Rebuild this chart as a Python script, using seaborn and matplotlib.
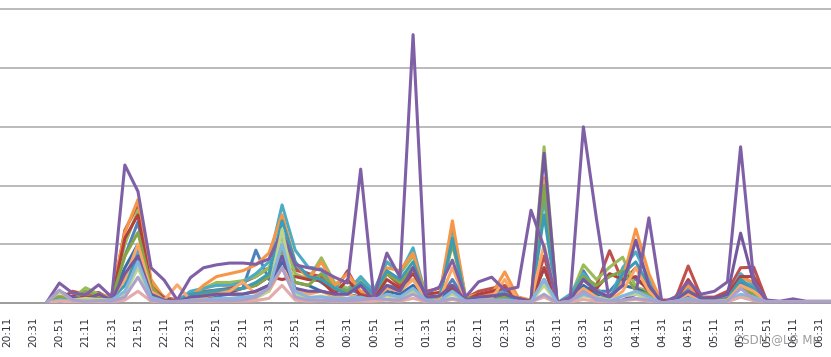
import numpy as np
import matplotlib
matplotlib.use("Agg")
import matplotlib.pyplot as plt
import seaborn as sns

n = np.nan

# category axis: 10-minute samples from 20:11 to 06:41
times = ["20:11", "20:21", "20:31", "20:41", "20:51", "21:01", "21:11", "21:21", "21:31", "21:41",
         "21:51", "22:01", "22:11", "22:21", "22:31", "22:41", "22:51", "23:01", "23:11", "23:21",
         "23:31", "23:41", "23:51", "00:01", "00:11", "00:21", "00:31", "00:41", "00:51", "01:01",
         "01:11", "01:21", "01:31", "01:41", "01:51", "02:01", "02:11", "02:21", "02:31", "02:41",
         "02:51", "03:01", "03:11", "03:21", "03:31", "03:41", "03:51", "04:01", "04:11", "04:21",
         "04:31", "04:41", "04:51", "05:01", "05:11", "05:21", "05:31", "05:41", "05:51", "06:01",
         "06:11", "06:21", "06:31", "06:41"]

blue1 = [n, n, n, 0, 5, 3, 3, 3, 15, 80,
         138, 25, 5, 3, 10, 15, 20, 22, 25, 90,
         40, 100, 60, 50, 35, 20, 25, 15, 10, 30,
         25, 40, 10, 8, 40, 5, 10, 10, 15, 5,
         3, 60, 0, 10, 55, 20, 20, 45, 40, 25,
         3, 5, 15, 5, 5, 5, 35, 20, 2, 2,
         4, 2, 2, 2]
red1 = [n, n, n, 0, 6, 20, 15, 18, 5, 124,
        167, 30, 10, 5, 15, 20, 22, 25, 35, 45,
        60, 60, 56, 50, 45, 20, 55, 15, 10, 50,
        30, 61, 20, 25, 30, 8, 20, 25, 30, 10,
        3, 80, 0, 5, 20, 30, 89, 36, 60, 30,
        5, 5, 63, 10, 10, 20, 60, 61, 3, 2,
        3, 2, 2, 2]
green1 = [n, n, n, 0, 12, 8, 26, 15, 8, 100,
          158, 35, 5, 3, 12, 25, 35, 35, 38, 45,
          60, 112, 50, 40, 77, 35, 25, 40, 20, 70,
          50, 80, 15, 10, 125, 10, 10, 5, 15, 5,
          5, 266, 0, 10, 65, 40, 61, 78, 27, 20,
          0, 5, 20, 8, 5, 10, 30, 20, 2, 2,
          3, 2, 2, 2]
purple1 = [n, n, n, 0, 34, 17, 14, 31, 10, 235,
           190, 60, 39, 5, 43, 60, 65, 68, 68, 66,
           75, 121, 65, 60, 56, 44, 34, 228, 10, 85,
           44, 457, 17, 27, 73, 10, 36, 44, 22, 27,
           158, 95, 0, 10, 300, 143, 0, 5, 15, 145,
           0, 10, 36, 15, 20, 36, 266, 39, 5, 3,
           7, 3, 3, 3]
aqua1 = [n, n, n, 0, 8, 5, 3, 5, 10, 40,
         90, 15, 5, 3, 20, 25, 30, 30, 35, 50,
         70, 167, 90, 61, 58, 30, 20, 45, 20, 70,
         50, 94, 10, 5, 132, 8, 10, 15, 20, 5,
         2, 180, 0, 15, 50, 25, 5, 60, 87, 40,
         0, 10, 25, 10, 5, 10, 50, 30, 2, 2,
         3, 2, 2, 2]
orange1 = [n, n, n, 0, 10, 8, 5, 8, 15, 120,
           176, 40, 8, 5, 10, 30, 45, 50, 55, 65,
           85, 150, 70, 40, 70, 30, 50, 20, 15, 60,
           55, 85, 8, 10, 140, 10, 15, 15, 53, 10,
           5, 213, 0, 10, 40, 20, 10, 40, 126, 50,
           0, 8, 30, 5, 5, 10, 44, 35, 2, 2,
           3, 2, 2, 2]
blue2 = [n, n, n, 0, 3, 5, 2, 2, 8, 60,
         100, 20, 5, 2, 8, 10, 12, 15, 15, 20,
         30, 70, 35, 30, 20, 15, 15, 10, 8, 20,
         15, 30, 8, 5, 25, 5, 8, 8, 10, 3,
         2, 40, 0, 5, 30, 15, 12, 30, 25, 15,
         2, 3, 10, 3, 3, 5, 25, 15, 2, 2,
         2, 2, 2, 2]
red2 = [n, n, n, 0, 4, 12, 10, 12, 5, 110,
        150, 28, 8, 3, 10, 12, 15, 18, 25, 30,
        45, 40, 45, 40, 38, 15, 40, 12, 8, 40,
        25, 50, 15, 18, 25, 5, 15, 20, 25, 8,
        2, 60, 0, 3, 15, 25, 50, 40, 45, 20,
        3, 3, 40, 8, 8, 15, 45, 45, 2, 2,
        2, 2, 2, 2]
green2 = [n, n, n, 0, 10, 6, 20, 12, 6, 80,
          120, 28, 4, 2, 8, 15, 20, 22, 25, 30,
          45, 90, 35, 30, 50, 25, 20, 30, 15, 50,
          35, 60, 10, 8, 100, 8, 8, 5, 10, 4,
          4, 200, 0, 8, 45, 30, 45, 55, 20, 15,
          0, 4, 15, 6, 4, 8, 25, 15, 2, 2,
          2, 2, 2, 2]
purple2 = [n, n, n, 0, 20, 10, 5, 15, 5, 50,
           80, 15, 5, 2, 10, 12, 15, 15, 15, 20,
           30, 80, 25, 20, 20, 15, 15, 30, 5, 30,
           20, 60, 10, 12, 30, 5, 10, 12, 15, 8,
           3, 255, 0, 5, 40, 20, 10, 30, 107, 30,
           0, 5, 20, 8, 8, 15, 119, 35, 3, 2,
           3, 2, 2, 2]
aqua2 = [n, n, n, 0, 6, 4, 2, 4, 8, 30,
         80, 12, 4, 2, 15, 18, 22, 22, 25, 35,
         50, 140, 70, 45, 40, 25, 15, 35, 15, 55,
         40, 70, 8, 4, 110, 6, 8, 12, 15, 4,
         2, 150, 0, 10, 40, 20, 5, 50, 70, 30,
         0, 8, 20, 8, 4, 8, 40, 25, 2, 2,
         2, 2, 2, 2]
peach = [n, n, n, 0, 5, 4, 3, 4, 8, 40,
         100, 20, 5, 31, 5, 10, 15, 20, 36, 15,
         20, 60, 25, 15, 20, 10, 15, 8, 5, 25,
         20, 40, 5, 5, 60, 5, 8, 8, 40, 5,
         3, 100, 0, 5, 25, 10, 5, 20, 60, 20,
         0, 5, 15, 3, 3, 5, 30, 20, 2, 2,
         2, 2, 2, 2]
lightblue = [n, n, n, 0, 5, 3, 2, 3, 5, 20,
             70, 10, 3, 2, 5, 5, 8, 8, 10, 12,
             25, 100, 20, 10, 10, 8, 8, 10, 5, 15,
             10, 25, 5, 3, 20, 3, 5, 5, 5, 3,
             2, 40, 0, 3, 15, 8, 3, 12, 20, 10,
             0, 3, 8, 3, 3, 3, 15, 10, 2, 2,
             2, 2, 2, 2]
lightgreen = [n, n, n, 0, 20, 5, 8, 6, 5, 15,
              60, 8, 2, 2, 4, 5, 5, 5, 6, 8,
              20, 125, 15, 8, 12, 6, 5, 8, 5, 12,
              8, 20, 4, 3, 15, 3, 3, 3, 4, 2,
              2, 30, 0, 3, 12, 8, 5, 12, 15, 8,
              0, 3, 6, 3, 3, 3, 12, 8, 2, 2,
              2, 2, 2, 2]
pink = [n, n, n, 0, 3, 2, 2, 2, 2, 5,
        20, 3, 2, 2, 2, 2, 3, 3, 3, 4,
        8, 30, 5, 3, 4, 3, 3, 3, 3, 5,
        3, 8, 2, 2, 6, 2, 2, 2, 3, 2,
        2, 10, 0, 2, 6, 3, 2, 4, 6, 3,
        0, 2, 4, 2, 2, 2, 10, 4, 2, 2,
        2, 2, 2, 2]
lavender = [n, n, n, 0, 22, 5, 3, 4, 3, 10,
            44, 5, 2, 3, 3, 4, 4, 4, 5, 10,
            25, 60, 10, 5, 5, 4, 4, 5, 8, 6,
            5, 15, 3, 2, 8, 2, 3, 3, 3, 2,
            2, 15, 0, 3, 20, 5, 3, 5, 8, 5,
            0, 2, 5, 2, 2, 3, 25, 6, 2, 2,
            2, 2, 2, 2]

series = [
    (blue1, "#4F81BD"), (red1, "#C0504D"), (green1, "#9BBB59"), (aqua1, "#4BACC6"),
    (orange1, "#F79646"), (blue2, "#3A6EA8"), (red2, "#B0413E"), (green2, "#86A545"),
    (aqua2, "#3C9CB5"), (peach, "#FAA868"), (purple2, "#7558A0"), (purple1, "#7F5FA6"),
    (lightgreen, "#BED58F"), (lightblue, "#84B6DE"), (pink, "#E3ABA9"), (lavender, "#ACA0CC"),
]

sns.set_theme(style="white")
plt.rcParams["font.family"] = ["DejaVu Sans"]

fig = plt.figure(figsize=(8.31, 3.57), dpi=100)
ax = fig.add_axes([0, 54 / 357, 1, 303 / 357])

xs = np.arange(len(times))
for vals, col in series:
    sns.lineplot(x=xs, y=np.array(vals, dtype=float), color=col, linewidth=2.2,
                 ax=ax, solid_joinstyle="round", solid_capstyle="round", zorder=3)

ax.set_xlim(-0.53, 62.9)
ax.set_ylim(0, 516)
ax.set_yticks([100, 200, 300, 400, 500])
ax.set_yticklabels([])
ax.yaxis.grid(True, color="#A8A8A8", linewidth=1.1)
ax.xaxis.grid(False)
ax.set_axisbelow(True)
for s in ["left", "right", "top"]:
    ax.spines[s].set_visible(False)
ax.spines["bottom"].set_color("#9C9C9C")
ax.spines["bottom"].set_linewidth(1.4)
ax.spines["bottom"].set_zorder(2)

tick_idx = list(range(0, len(times) - 1, 2))
ax.set_xticks(tick_idx)
ax.set_xticklabels([times[i] for i in tick_idx], rotation=90, fontsize=7.6, color="#30303a",
                   va="top", ha="center")
ax.tick_params(axis="x", length=0, pad=10)
ax.tick_params(axis="y", length=0)
ax.set_xlabel("")
ax.set_ylabel("")

fig.text(0.984, 0.048, "CSDN @LG Mr", ha="right", va="center", fontsize=8.5,
         color="#8a8a8a", alpha=0.85)

fig.savefig("out.png", dpi=100)
